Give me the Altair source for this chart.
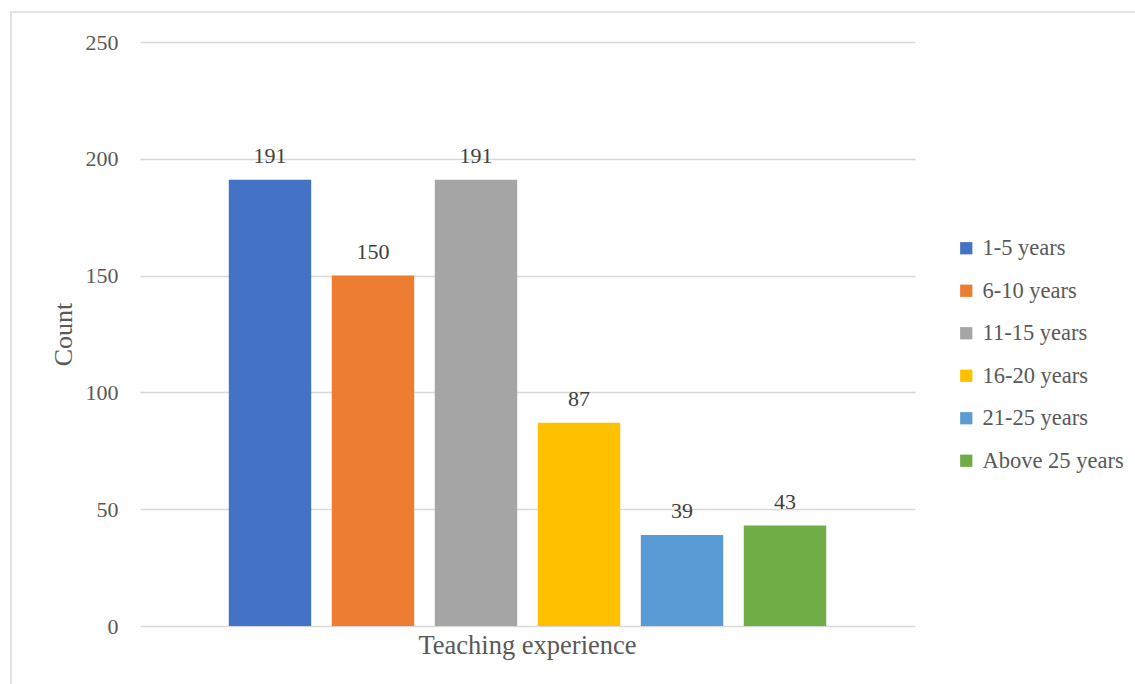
import altair as alt
import pandas as pd

categories = ["1-5 years", "6-10 years", "11-15 years", "16-20 years", "21-25 years", "Above 25 years"]
counts = [191, 150, 191, 87, 39, 43]
colors = ["#4472C4", "#ED7D31", "#A5A5A5", "#FFC000", "#5B9BD5", "#70AD47"]
group = "Teaching experience"

df = pd.DataFrame({"group": [group] * len(categories), "series": categories, "count": counts})

FONT = "Times New Roman, Liberation Serif, serif"
GREY = "#595959"

yscale = alt.Scale(domain=[0, 250], nice=False, zero=True)

x = alt.X("group:N", title=None,
          scale=alt.Scale(paddingInner=0, paddingOuter=0.127),
          axis=alt.Axis(labelAngle=0, labelFontSize=26.5, labelColor=GREY, labelFont=FONT,
                        ticks=False, domain=False, labelPadding=6, labelLimit=0))
xo = alt.XOffset("series:N", sort=categories,
                 scale=alt.Scale(paddingInner=0.2, paddingOuter=0.1))
y = alt.Y("count:Q", title="Count", scale=yscale,
          axis=alt.Axis(values=[0, 50, 100, 150, 200, 250], grid=True, gridColor="#D9D9D9",
                        gridWidth=1.3, domain=False, ticks=False, labelFontSize=22,
                        labelColor=GREY, labelFont=FONT, labelPadding=22,
                        titleFontSize=26, titleColor=GREY, titleFont=FONT,
                        titleFontWeight="normal", titlePadding=9))

bars = alt.Chart(df).mark_bar().encode(
    x=x, xOffset=xo, y=y,
    color=alt.Color("series:N", sort=categories,
                    scale=alt.Scale(domain=categories, range=colors),
                    legend=alt.Legend(title=None, orient="none", legendX=815, legendY=195,
                                      symbolType="square", symbolSize=150, symbolStrokeWidth=0,
                                      labelFontSize=22.5, labelFont=FONT, labelColor=GREY,
                                      labelLimit=0, rowPadding=19.5, labelOffset=5)),
)

labels = alt.Chart(df).mark_text(fontSize=22, font=FONT, color="#404040", dy=-17,
                                 baseline="alphabetic").encode(
    x=alt.X("group:N", title=None), xOffset=xo,
    y=alt.Y("count:Q", scale=yscale), text="count:Q")

border = alt.Chart(pd.DataFrame({"a": [0]})).mark_rect(
    fillOpacity=0, stroke="#D9D9D9", strokeWidth=1.5).encode(
    x=alt.value(-129), x2=alt.value(1200), y=alt.value(-30), y2=alt.value(700))

chart = alt.layer(border, bars, labels).properties(
    width=775, height=584,
    background="white",
    autosize=alt.AutoSizeParams(type="none"),
    padding={"left": 140, "top": 42, "right": 220, "bottom": 58},
).configure_view(stroke=None, strokeWidth=0)

chart.save("out.html", embed_options={"renderer": "svg", "actions": False})
